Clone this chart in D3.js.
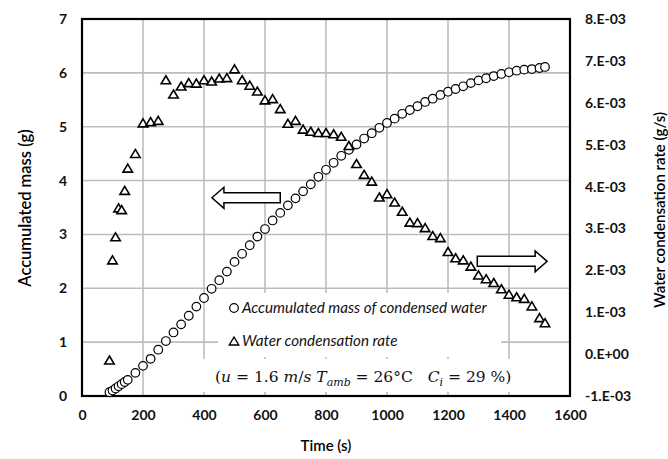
<!DOCTYPE html>
<html>
<head>
<meta charset="utf-8">
<script src="https://cdn.jsdelivr.net/npm/d3@7/dist/d3.min.js"></script>
<style>
  html, body { margin: 0; padding: 0; background: #fff; }
  svg { display: block; }
</style>
</head>
<body>
<svg id="chart" width="668" height="459"></svg>
<script>
// Sampling times (s)
const times = [90, 100, 110, 120, 130, 140, 150,
  175, 200, 225, 250, 275, 300, 325, 350, 375, 400, 425, 450, 475, 500,
  525, 550, 575, 600, 625, 650, 675, 700, 725, 750, 775, 800, 825, 850,
  875, 900, 925, 950, 975, 1000, 1025, 1050, 1075, 1100, 1125, 1150, 1175,
  1200, 1225, 1250, 1275, 1300, 1325, 1350, 1375, 1400, 1425, 1450, 1475,
  1500, 1518];

// Accumulated mass of condensed water (g)
const massValues = [0.07, 0.10, 0.14, 0.18, 0.22, 0.26, 0.30,
  0.43, 0.56, 0.69, 0.86, 1.02, 1.18, 1.33, 1.49, 1.66, 1.82, 1.99, 2.15, 2.31, 2.49,
  2.64, 2.80, 2.96, 3.10, 3.26, 3.40, 3.54, 3.67, 3.80, 3.93, 4.07, 4.20, 4.33, 4.46,
  4.57, 4.67, 4.78, 4.88, 4.98, 5.07, 5.15, 5.24, 5.31, 5.38, 5.46, 5.52, 5.59,
  5.65, 5.70, 5.75, 5.81, 5.86, 5.90, 5.94, 5.98, 6.01, 6.04, 6.06, 6.07,
  6.09, 6.11];

// Water condensation rate (g/s)
const rateValues = [-0.14e-3, 2.25e-3, 2.80e-3, 3.49e-3, 3.45e-3, 3.91e-3, 4.44e-3,
  4.79e-3, 5.52e-3, 5.55e-3, 5.58e-3, 6.55e-3, 6.21e-3, 6.40e-3, 6.48e-3, 6.47e-3, 6.55e-3, 6.52e-3, 6.59e-3, 6.60e-3, 6.81e-3,
  6.55e-3, 6.42e-3, 6.28e-3, 6.07e-3, 6.10e-3, 5.86e-3, 5.51e-3, 5.58e-3, 5.37e-3, 5.32e-3, 5.29e-3, 5.29e-3, 5.26e-3, 5.20e-3,
  4.98e-3, 4.55e-3, 4.29e-3, 4.13e-3, 3.75e-3, 3.83e-3, 3.63e-3, 3.41e-3, 3.15e-3, 3.14e-3, 3.02e-3, 2.83e-3, 2.78e-3,
  2.45e-3, 2.30e-3, 2.25e-3, 2.10e-3, 1.89e-3, 1.80e-3, 1.71e-3, 1.56e-3, 1.43e-3, 1.37e-3, 1.33e-3, 1.15e-3,
  0.87e-3, 0.75e-3];

// Axis ticks and labels
const xTicks = [0, 200, 400, 600, 800, 1000, 1200, 1400, 1600];
const leftTicks = [0, 1, 2, 3, 4, 5, 6, 7];
const rightTicks = [-1e-3, 0, 1e-3, 2e-3, 3e-3, 4e-3, 5e-3, 6e-3, 7e-3, 8e-3];
const rightTickLabels = ["-1.E-03", "0.E+00", "1.E-03", "2.E-03", "3.E-03", "4.E-03", "5.E-03", "6.E-03", "7.E-03", "8.E-03"];
const legendLabels = ["Accumulated mass of condensed water", "Water condensation rate"];

const svg = d3.select("#chart");
const plot = { left: 82, right: 570, top: 19, bottom: 396 };

const x = d3.scaleLinear().domain([0, 1600]).range([plot.left, plot.right]);
const yL = d3.scaleLinear().domain([0, 7]).range([plot.bottom, plot.top]);
const yR = d3.scaleLinear().domain([-1e-3, 8e-3]).range([plot.bottom, plot.top]);

const tickFont = "Lato, 'Open Sans', sans-serif";

// Gridlines
const grid = svg.append("g").attr("stroke", "#bdbdbd").attr("stroke-width", 1.6);
grid.selectAll("line.h").data(leftTicks.slice(1, -1)).join("line")
  .attr("x1", plot.left).attr("x2", plot.right)
  .attr("y1", d => yL(d)).attr("y2", d => yL(d));
grid.selectAll("line.v").data(xTicks.slice(1, -1)).join("line")
  .attr("y1", plot.top).attr("y2", plot.bottom)
  .attr("x1", d => x(d)).attr("x2", d => x(d));

// Bottom axis
const xAxis = svg.append("g").attr("transform", `translate(0,${plot.bottom})`)
  .call(d3.axisBottom(x).tickValues(xTicks).tickSize(0).tickPadding(14).tickFormat(d3.format("d")));
xAxis.select(".domain").remove();

// Left axis
const lAxis = svg.append("g").attr("transform", `translate(${plot.left},0)`)
  .call(d3.axisLeft(yL).tickValues(leftTicks).tickSize(0).tickPadding(15).tickFormat(d3.format("d")));
lAxis.select(".domain").remove();

// Right axis
const rAxis = svg.append("g").attr("transform", `translate(${plot.right},0)`)
  .call(d3.axisRight(yR).tickValues(rightTicks).tickSize(0).tickPadding(15)
    .tickFormat((d, i) => rightTickLabels[i]));
rAxis.select(".domain").remove();

svg.selectAll(".tick text")
  .attr("font-family", tickFont).attr("font-size", 14).attr("font-weight", 700).attr("fill", "#111");

// Plot frame
svg.append("rect")
  .attr("x", plot.left).attr("y", plot.top)
  .attr("width", plot.right - plot.left).attr("height", plot.bottom - plot.top)
  .attr("fill", "none").attr("stroke", "#000").attr("stroke-width", 2.2);

// Axis titles
svg.append("text").attr("x", (plot.left + plot.right) / 2).attr("y", 451)
  .attr("text-anchor", "middle").attr("font-family", tickFont).attr("font-size", 15)
  .attr("font-weight", 600).text("Time (s)");
svg.append("text").attr("transform", "translate(31,208) rotate(-90)")
  .attr("text-anchor", "middle").attr("font-family", tickFont).attr("font-size", 16.5)
  .attr("font-weight", 600).text("Accumulated mass (g)");
svg.append("text").attr("transform", "translate(665,210) rotate(-90)")
  .attr("text-anchor", "middle").attr("font-family", tickFont).attr("font-size", 15)
  .attr("font-weight", 600).text("Water condensation rate (g/s)");

// Legend box and condition note
svg.append("rect").attr("x", 218).attr("y", 293).attr("width", 283).attr("height", 64).attr("fill", "#fff");
svg.append("rect").attr("x", 196).attr("y", 359).attr("width", 346).attr("height", 33).attr("fill", "#fff");

// Marker shapes
const triPath = (w, h) => `M0,${-h / 2}L${w / 2},${h / 2}L${-w / 2},${h / 2}Z`;

const pts = times.map((t, i) => ({ t, m: massValues[i], r: rateValues[i] }));

// Accumulated mass series (circles)
svg.append("g").selectAll("circle").data(pts).join("circle")
  .attr("cx", d => x(d.t)).attr("cy", d => yL(d.m)).attr("r", 4.3)
  .attr("fill", "#fff").attr("stroke", "#000").attr("stroke-width", 1.2);

// Condensation rate series (triangles)
svg.append("g").selectAll("path").data(pts).join("path")
  .attr("transform", d => `translate(${x(d.t)},${yR(d.r)})`)
  .attr("d", triPath(9.5, 8))
  .attr("fill", "#fff").attr("stroke", "#000").attr("stroke-width", 1.6)
  .attr("stroke-linejoin", "miter");

// Legend entries
const legend = svg.append("g").attr("font-family", tickFont).attr("font-size", 15.2)
  .attr("font-style", "italic").attr("fill", "#111");
legend.append("circle").attr("cx", 234).attr("cy", 308).attr("r", 4.3)
  .attr("fill", "#fff").attr("stroke", "#000").attr("stroke-width", 1.2);
legend.append("text").attr("x", 242).attr("y", 313).text(legendLabels[0]);
legend.append("path").attr("transform", "translate(234,341)").attr("d", triPath(9.5, 8))
  .attr("fill", "#fff").attr("stroke", "#000").attr("stroke-width", 1.4);
legend.append("text").attr("x", 242).attr("y", 346).text(legendLabels[1]);

// Experimental conditions
const note = svg.append("text").attr("x", 215).attr("y", 382)
  .attr("font-family", "'DejaVu Serif', 'Liberation Serif', serif").attr("font-size", 15.5).attr("fill", "#111");
const seg = (txt, italic, sub) => {
  const s = note.append("tspan").text(txt);
  if (italic) s.attr("font-style", "italic");
  if (sub) s.attr("font-size", 11).attr("dy", 4);
  return s;
};
seg("(", false); seg("u", true); seg(" = 1.6 ", false); seg("m", true); seg("/", false); seg("s", true);
seg(" T", true); seg("amb", true, true);
note.append("tspan").attr("dy", -4).text(" = 26°C\u00A0\u00A0\u00A0");
seg("C", true); seg("i", true, true);
note.append("tspan").attr("dy", -4).text(" = 29 %)");

// Direction arrows pointing to each series' axis
const arrowPath = (x0, x1, yc) => {
  const dir = Math.sign(x1 - x0), hl = 12, bh = 5, hh = 10.5;
  const xb = x1 - dir * hl;
  return `M${x0},${yc - bh}L${xb},${yc - bh}L${xb},${yc - hh}L${x1},${yc}L${xb},${yc + hh}L${xb},${yc + bh}L${x0},${yc + bh}Z`;
};
svg.append("path").attr("d", arrowPath(x(650), x(426), yL(3.68)))
  .attr("fill", "#fff").attr("stroke", "#000").attr("stroke-width", 1.5);
svg.append("path").attr("d", arrowPath(x(1296), x(1525), yL(2.5)))
  .attr("fill", "#fff").attr("stroke", "#000").attr("stroke-width", 1.5);
</script>
</body>
</html>
